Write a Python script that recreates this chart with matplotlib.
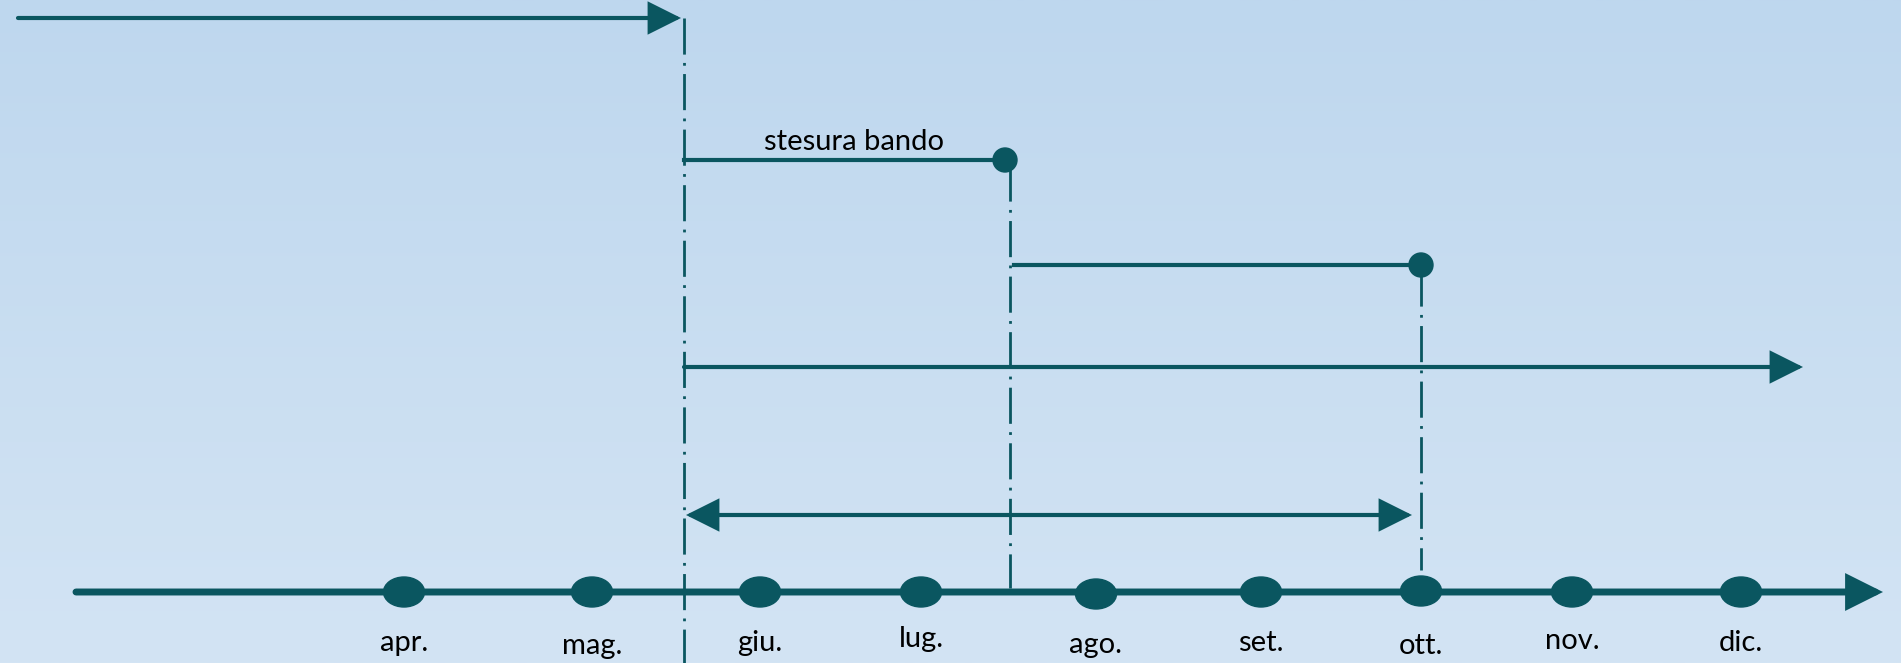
import numpy as np
import matplotlib.pyplot as plt
from matplotlib.patches import Ellipse, Circle

# ---------------- DATA ----------------
MONTHS = ["apr.", "mag.", "giu.", "lug.", "ago.", "set.", "ott.", "nov.", "dic."]
MONTH_X = [404, 592, 760, 921, 1096, 1261, 1421, 1572, 1741]
MONTH_DOT_Y = [592, 592, 592, 592, 594, 592, 591, 592, 592]
LABEL_Y = [643, 646, 643, 639, 645, 643, 646, 641, 643]

TIMELINE = (76, 1883, 592)          # x start, x tip, y

# (x start, x end, y) of the phases
TOP_ARROW = (18, 681, 18)
PHASE_1 = (684, 1005, 160)
PHASE_2 = (1014, 1421, 265)
LONG_ARROW = (684, 1803, 367)
DOUBLE_ARROW = (686, 1412, 515)

# (x, y top, y bottom) of the dash-dot guides
GUIDES = [(684, 18, 663), (1010, 165, 588), (1421, 270, 570)]

PHASE_1_LABEL = "stesura bando"
# --------------------------------------

W, H = 1901, 663
COLOR = "#0a5660"
FONT = ["Lato", "DejaVu Sans"]

fig = plt.figure(figsize=(W / 100, H / 100), dpi=100)
ax = fig.add_axes([0, 0, 1, 1])
ax.set_xlim(0, W)
ax.set_ylim(H, 0)
ax.axis("off")

# background gradient
top = np.array([190, 215, 238]) / 255
bottom = np.array([211, 228, 244]) / 255
t = np.linspace(0, 1, 256)[:, None]
grad = (top * (1 - t) + bottom * t)[:, None, :]
ax.imshow(grad, extent=[0, W, H, 0], aspect="auto", zorder=0)


def arrow(x0, x1, y, lw=3, style="-|>"):
    ax.annotate("", xy=(x1, y), xytext=(x0, y),
                arrowprops=dict(arrowstyle=style + ",head_length=0.8,head_width=0.4",
                                mutation_scale=24, lw=lw, color=COLOR,
                                joinstyle="miter", shrinkA=0, shrinkB=0), zorder=3)


# dash-dot guides
for gx, gy0, gy1 in GUIDES:
    ax.plot([gx, gx], [gy0, gy1], color=COLOR, lw=2,
            dashes=(13, 3, 1, 3), zorder=2)

# timeline
tx0, tx1, ty = TIMELINE
arrow(tx0, tx1, ty, lw=5)
for x, y, lab, ly in zip(MONTH_X, MONTH_DOT_Y, MONTHS, LABEL_Y):
    ax.add_patch(Ellipse((x, y), 41, 30, color=COLOR, zorder=4))
    ax.text(x, ly, lab, ha="center", va="center", fontsize=21,
            family=FONT, color="black")

# phases
arrow(*TOP_ARROW)
arrow(*LONG_ARROW)
arrow(*DOUBLE_ARROW, style="<|-|>")

for x0, x1, y in (PHASE_1, PHASE_2):
    ax.plot([x0, x1], [y, y], color=COLOR, lw=3, zorder=3)
    ax.add_patch(Circle((x1, y), 12, color=COLOR, zorder=4))

ax.text((PHASE_1[0] + PHASE_1[1]) / 2 + 10, PHASE_1[2] - 18, PHASE_1_LABEL,
        ha="center", va="center", fontsize=21, family=FONT, color="black")

fig.savefig("out.png", dpi=100)
